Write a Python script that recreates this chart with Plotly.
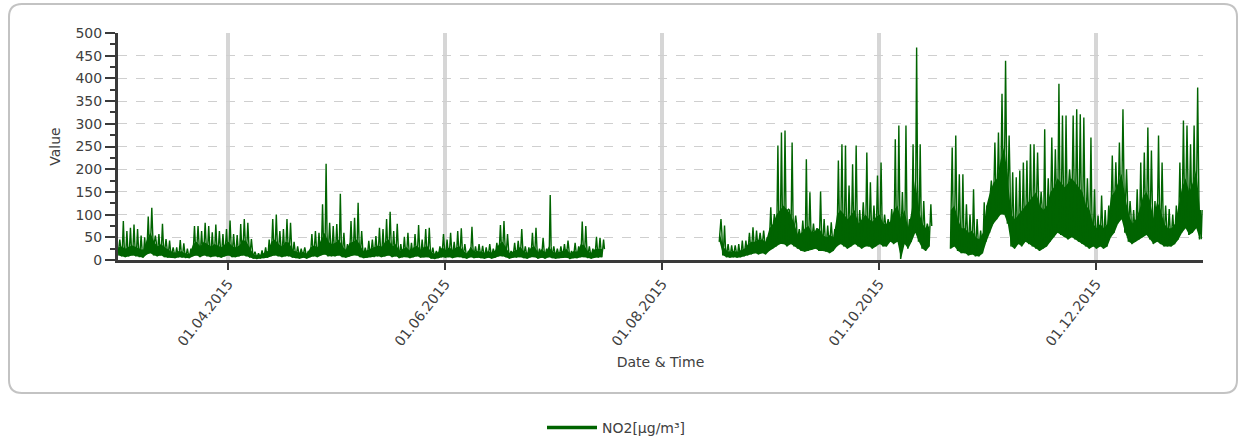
import pandas as pd
import plotly.graph_objects as go

# NO2 concentration, read per day: night-time low, typical level, daily peak [µg/m³]
seg1_start = "2015-03-01"
seg1_low = [10, 8, 6, 8, 10, 8, 6, 5, 12, 15,
            10, 8, 10, 6, 5, 5, 4, 6, 5, 4,
            4, 8, 10, 6, 10, 8, 6, 8, 6, 5,
            8, 10, 6, 6, 8, 10, 8, 5, 3, 2,
            3, 4, 5, 8, 10, 8, 6, 8, 8, 5,
            4, 3, 5, 3, 6, 8, 6, 10, 12, 8,
            8, 8, 10, 6, 5, 8, 10, 10, 6, 4,
            5, 6, 6, 8, 6, 8, 10, 6, 8, 4,
            6, 6, 4, 6, 8, 5, 6, 6, 3, 2,
            4, 6, 5, 6, 4, 6, 6, 4, 3, 6,
            4, 5, 4, 3, 5, 3, 5, 8, 8, 6,
            3, 5, 5, 6, 4, 3, 6, 6, 3, 5,
            3, 6, 4, 3, 4, 5, 5, 2, 4, 4,
            6, 6, 4, 3, 5, 5, 6]
seg1_base = [28, 30, 25, 30, 32, 28, 25, 22, 45, 60,
             40, 30, 35, 28, 22, 18, 16, 20, 18, 14,
             14, 35, 40, 30, 40, 35, 30, 35, 32, 28,
             35, 40, 30, 28, 32, 45, 40, 25, 12, 10,
             12, 16, 20, 40, 45, 35, 30, 40, 38, 22,
             18, 16, 18, 14, 28, 32, 28, 45, 60, 40,
             35, 38, 45, 30, 22, 38, 40, 45, 30, 18,
             22, 25, 28, 32, 30, 40, 45, 30, 35, 20,
             25, 28, 20, 28, 32, 22, 30, 30, 16, 14,
             18, 28, 22, 28, 22, 28, 30, 20, 14, 30,
             18, 20, 18, 16, 20, 16, 22, 35, 40, 28,
             14, 20, 22, 30, 18, 16, 28, 30, 16, 24,
             16, 30, 18, 16, 18, 20, 24, 14, 20, 18,
             35, 32, 18, 16, 25, 25, 24]
seg1_peak = [45, 86, 64, 71, 78, 68, 54, 50, 96, 115,
             54, 57, 80, 46, 43, 28, 28, 44, 37, 25,
             25, 75, 75, 64, 82, 75, 61, 78, 64, 57,
             68, 87, 57, 55, 79, 90, 82, 46, 18, 15,
             21, 28, 45, 90, 100, 64, 68, 90, 82, 40,
             30, 25, 28, 20, 57, 64, 60, 123, 212, 82,
             75, 79, 146, 60, 35, 86, 93, 126, 64, 27,
             42, 45, 53, 71, 68, 90, 106, 64, 80, 35,
             51, 60, 38, 57, 77, 45, 68, 71, 27, 20,
             30, 57, 45, 60, 40, 64, 70, 35, 20, 73,
             30, 35, 31, 28, 35, 25, 38, 77, 86, 57,
             20, 38, 42, 68, 30, 28, 60, 71, 25, 49,
             25, 143, 30, 25, 30, 35, 43, 20, 38, 30,
             85, 75, 30, 25, 51, 49, 45]

seg2_start = "2015-08-17"
seg2_low = [40,
            10, 6, 5, 6, 5, 6, 8,
            10, 12, 15, 12, 15, 12,
            20, 25, 30, 35, 35, 30, 35, 30,
            25, 20, 18, 20, 22, 25, 20, 20, 18, 15, 20,
            30, 35, 30, 25, 30, 35, 30, 25, 30, 30, 25, 30,
            35, 30, 30, 40, 35, 40, 2, 35, 25, 40, 60, 40, 25, 20, 30]
seg2_base = [60,
             30, 20, 18, 20, 18, 22, 25,
             35, 40, 40, 45, 45, 40,
             70, 80, 100, 110, 120, 110, 100, 80,
             55, 60, 70, 75, 60, 65, 70, 55, 50, 55, 50,
             100, 110, 100, 90, 100, 110, 80, 90, 100, 90, 85, 95,
             100, 80, 80, 85, 110, 120, 90, 110, 70, 110, 180, 110, 80, 70, 75]
seg2_peak = [90,
             76, 35, 32, 32, 35, 43, 43,
             60, 72, 65, 60, 65, 50,
             116, 101, 252, 281, 285, 112, 259, 98,
             68, 87, 222, 149, 80, 70, 151, 90, 76, 83, 68,
             219, 255, 252, 164, 211, 252, 110, 127, 237, 171, 120, 186,
             215, 100, 90, 112, 266, 296, 150, 296, 90, 255, 468, 255, 130, 80, 123]

seg3_start = "2015-10-21"
seg3_low = [25, 30, 20, 15, 15, 10, 12, 8, 8, 15,
            40, 60, 80, 90, 100, 100, 80,
            30, 25, 35, 30, 40, 35,
            30, 25, 20, 25, 30, 40,
            50, 60, 55, 50, 45, 50, 45, 40, 35, 30, 25,
            30, 25, 30, 25, 30, 50,
            60, 80, 90, 60, 40,
            35, 40, 45, 50, 55, 45, 35, 40, 35, 30, 30, 30, 35, 45,
            60, 70, 55, 60, 70, 45]
seg3_base = [110, 120, 90, 70, 70, 60, 65, 50, 45, 60,
             120, 150, 170, 180, 220, 250, 180,
             100, 90, 100, 110, 120, 130,
             140, 150, 120, 110, 120, 150,
             160, 180, 170, 160, 170, 180, 170, 160, 150, 120, 110,
             80, 70, 80, 70, 80, 140,
             150, 170, 190, 140, 100,
             80, 90, 110, 140, 150, 130, 90, 130, 110, 80, 70, 70, 80, 120,
             160, 180, 150, 170, 200, 110]
seg3_peak = [248, 274, 189, 189, 123, 100, 156, 90, 65, 127,
             90, 175, 259, 281, 366, 439, 274,
             193, 182, 197, 215, 219, 255,
             255, 237, 150, 288, 180, 270,
             244, 388, 318, 318, 200, 318, 332, 321, 314, 180, 270,
             156, 98, 142, 110, 120, 230,
             215, 259, 332, 200, 130,
             110, 156, 215, 237, 292, 241, 130, 274, 215, 120, 112, 100, 120, 215,
             307, 296, 255, 296, 380, 46]

x_tick_dates = ["2015-04-01", "2015-06-01", "2015-08-01", "2015-10-01", "2015-12-01"]
series_name = "NO2[µg/m³]"

GREEN = "#006400"
TEXT = "#404040"
AXIS = "#3a3a3a"
FONT = "DejaVu Sans"
FS = 14

segments = [(seg1_start, seg1_low, seg1_base, seg1_peak),
            (seg2_start, seg2_low, seg2_base, seg2_peak),
            (seg3_start, seg3_low, seg3_base, seg3_peak)]


def day_series(start, low, base, peak):
    """Four readings per day: 00h low, 06h level, 12h peak, 18h level."""
    t0 = pd.Timestamp(start)
    xs, ys = [], []
    for i, (lo, ba, pk) in enumerate(zip(low, base, peak)):
        day = t0 + pd.Timedelta(days=i)
        for hour, v in ((0, lo), (6, ba), (12, pk), (18, ba)):
            xs.append(day + pd.Timedelta(hours=hour))
            ys.append(v)
    return xs, ys


# page / plot-area geometry in pixels
W, H = 1245, 443
L, T, R, B = 118, 33, 1203, 260
PW, PH = R - L, B - T


def to_paper(px, py):
    return (px - L) / PW, (B - py) / PH


def rounded_rect(x0, y0, x1, y1, r):
    pts = [("M", [(x0 + r, y0)]), ("L", [(x1 - r, y0)]),
           ("Q", [(x1, y0), (x1, y0 + r)]), ("L", [(x1, y1 - r)]),
           ("Q", [(x1, y1), (x1 - r, y1)]), ("L", [(x0 + r, y1)]),
           ("Q", [(x0, y1), (x0, y1 - r)]), ("L", [(x0, y0 + r)]),
           ("Q", [(x0, y0), (x0 + r, y0)])]
    out = []
    for cmd, coords in pts:
        cs = " ".join("%.5f,%.5f" % to_paper(px, py) for px, py in coords)
        out.append(cmd + " " + cs)
    return " ".join(out) + " Z"


fig = go.Figure()

# dense night-to-daytime band of the hourly record, one filled strip per segment
for start, low, base, peak in segments:
    days = pd.date_range(start, periods=len(low), freq="D") + pd.Timedelta(hours=3)
    fig.add_trace(go.Scatter(x=days, y=low, mode="lines", line=dict(width=0, color=GREEN),
                             showlegend=False, hoverinfo="skip"))
    fig.add_trace(go.Scatter(x=days, y=base, mode="lines", line=dict(width=0, color=GREEN),
                             fill="tonexty", fillcolor=GREEN,
                             showlegend=False, hoverinfo="skip"))

x_all, y_all = [], []
for seg in segments:
    xs, ys = day_series(*seg)
    if x_all:
        x_all.append(None)
        y_all.append(None)
    x_all += xs
    y_all += ys

fig.add_trace(go.Scatter(
    x=x_all, y=y_all, mode="lines", connectgaps=False,
    line=dict(color=GREEN, width=1.4), showlegend=False,
    hoverinfo="x+y",
))
# legend sample drawn with a heavier stroke
fig.add_trace(go.Scatter(
    x=[None], y=[None], mode="lines", name=series_name,
    line=dict(color=GREEN, width=3.5),
))

fig.update_layout(
    width=W, height=H,
    margin=dict(l=L, r=W - R, t=T, b=H - B, autoexpand=False),
    paper_bgcolor="white", plot_bgcolor="white",
    font=dict(family=FONT, size=FS, color=TEXT),
    showlegend=True,
    legend=dict(orientation="h", x=(542 - L) / PW, xanchor="left",
                y=to_paper(0, 428)[1], yanchor="middle",
                font=dict(family=FONT, size=FS, color=TEXT),
                itemwidth=50, bgcolor="rgba(0,0,0,0)"),
    shapes=[dict(type="path", xref="paper", yref="paper",
                 path=rounded_rect(9, 4, 1237, 393, 13),
                 line=dict(color="#c3c3c3", width=2), layer="below")],
)

fig.update_xaxes(
    type="date", range=["2015-03-01", "2015-12-31"],
    tickmode="array", tickvals=x_tick_dates,
    tickformat="%d.%m.%Y", tickangle=-52,
    ticks="outside", ticklen=7, tickwidth=2, tickcolor=AXIS,
    showline=True, linecolor=AXIS, linewidth=3,
    showgrid=True, gridcolor="#d6d6d6", gridwidth=4,
    zeroline=False, automargin=False,
    title=dict(text="Date & Time", font=dict(family=FONT, size=FS, color=TEXT), standoff=10),
    tickfont=dict(family=FONT, size=FS, color=TEXT),
)
fig.update_yaxes(
    range=[0, 500], dtick=50, tick0=0,
    ticks="outside", ticklen=10, tickwidth=2, tickcolor=AXIS,
    showline=True, linecolor=AXIS, linewidth=3,
    showgrid=True, gridcolor="#cfcfcf", gridwidth=1, griddash="dash",
    zeroline=False, automargin=False,
    minor=dict(dtick=25, ticks="outside", ticklen=5, tickwidth=2,
               tickcolor=AXIS, showgrid=False),
    title=dict(text="Value", font=dict(family=FONT, size=FS, color=TEXT), standoff=12),
    tickfont=dict(family=FONT, size=FS, color=TEXT),
)

fig.write_html("out.html")
